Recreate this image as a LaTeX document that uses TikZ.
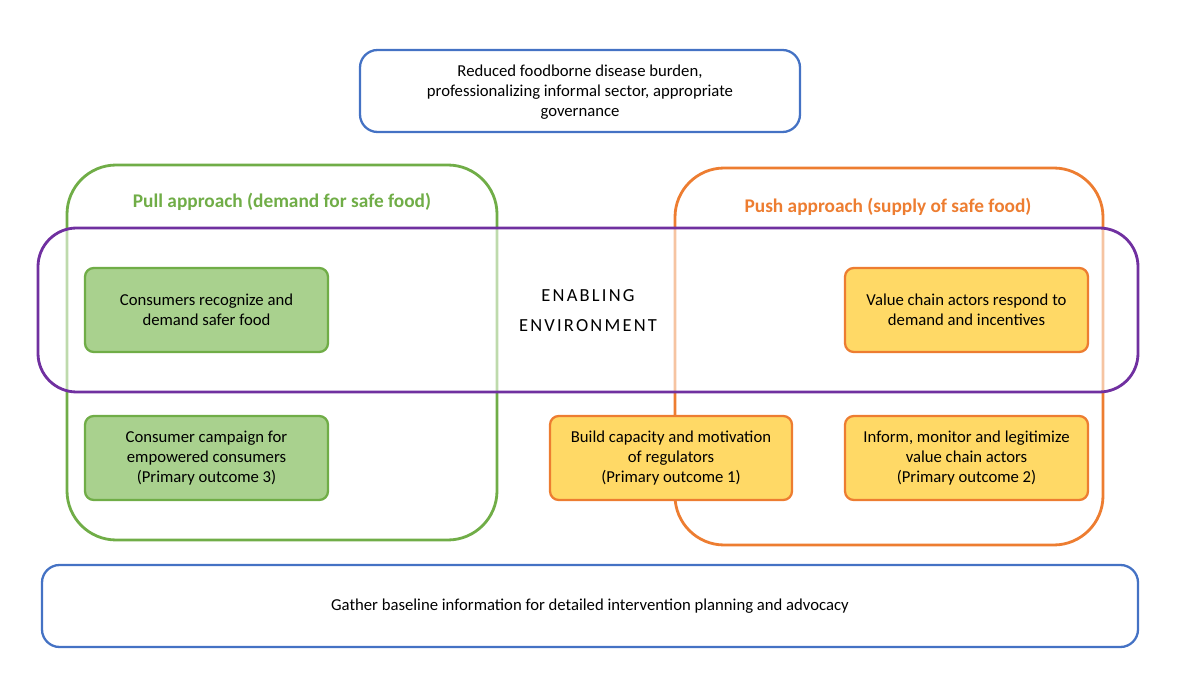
\documentclass[tikz,border=0pt]{standalone}
\usepackage{fontspec}
\setmainfont{Carlito}
\begin{document}
\begin{tikzpicture}[x=0.02cm,y=-0.02cm,
 blue/.style={draw=blue!60!cyan!80!black,line width=1.3pt,rounded corners=10pt},
 big/.style={line width=1.6pt,rounded corners=28pt},
 gbox/.style={draw=green!50!black!70!lime,fill={rgb,255:red,169;green,209;blue,142},line width=1.3pt,rounded corners=5pt},
 obox/.style={draw={rgb,255:red,237;green,125;blue,49},fill={rgb,255:red,255;green,217;blue,102},line width=1.3pt,rounded corners=5pt},
 txt/.style={align=center,font=\fontsize{9.5}{11.5}\selectfont}]
\definecolor{gr}{RGB}{112,173,71}\definecolor{or}{RGB}{237,125,49}\definecolor{pu}{RGB}{112,48,160}\definecolor{bl}{RGB}{68,114,196}
\useasboundingbox (0,0) rectangle (1200,675);
\draw[big,draw=gr] (67,165) rectangle (497,540);
\draw[big,draw=or] (675,168) rectangle (1103,545);
\draw[big,draw=pu,fill=white,fill opacity=0.55,rounded corners=22pt] (38,228) rectangle (1138,392);
\draw[blue,draw=bl] (360,50) rectangle (800,132);
\node[txt] (goal) at (580,92) {Reduced foodborne disease burden,\\professionalizing informal sector, appropriate\\governance};
\draw[blue,draw=bl] (42,565) rectangle (1138,647);
\node[txt] (base) at (590,606) {Gather baseline information for detailed intervention planning and advocacy};
\node[font=\fontsize{11}{13}\bfseries\selectfont,text=gr] (pull) at (282,202) {Pull approach (demand for safe food)};
\node[font=\fontsize{11}{13}\bfseries\selectfont,text=or] (push) at (888,207) {Push approach (supply of safe food)};
\node[align=center,font=\fontsize{10.5}{17}\selectfont] (env) at (588,311) {\addfontfeatures{LetterSpace=12}ENABLING\\\addfontfeatures{LetterSpace=12}ENVIRONMENT};
\draw[gbox,draw=gr] (85,268) rectangle (328,352) node[txt,midway] (c1) {Consumers recognize and\\demand safer food};
\draw[gbox,draw=gr] (85,416) rectangle (328,500) node[txt,midway] (c2) {Consumer campaign for\\empowered consumers\\(Primary outcome 3)};
\draw[obox] (845,268) rectangle (1088,352) node[txt,midway] (v1) {Value chain actors respond to\\demand and incentives};
\draw[obox] (550,416) rectangle (792,500) node[txt,midway] (r1) {Build capacity and motivation\\of regulators\\(Primary outcome 1)};
\draw[obox] (845,416) rectangle (1088,500) node[txt,midway] (v2) {Inform, monitor and legitimize\\value chain actors\\(Primary outcome 2)};
\end{tikzpicture}
\end{document}
